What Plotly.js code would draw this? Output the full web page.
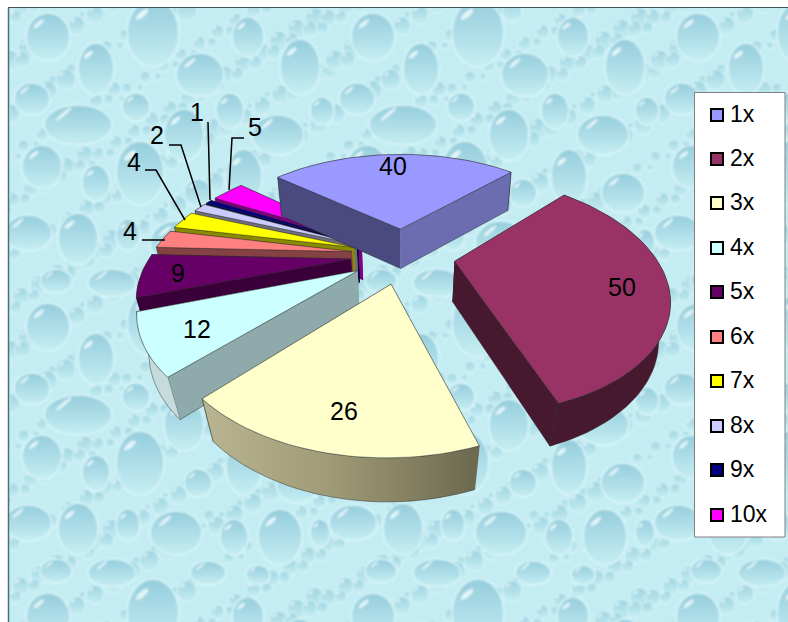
<!DOCTYPE html>
<html>
<head>
<meta charset="utf-8">
<script src="https://cdn.plot.ly/plotly-3.0.1.min.js"></script>
<style>html,body{margin:0;padding:0;background:#fff;overflow:hidden}</style>
</head>
<body>
<div id="chart" style="width:788px;height:622px"></div>
<script>
// Slice data
const categories = ['1x','2x','3x','4x','5x','6x','7x','8x','9x','10x'];
const counts = [40,50,26,12,9,4,4,2,1,5];
const topColors = ['#9999FF','#993366','#FFFFCC','#CCFFFF','#660066','#FF8080','#FFFF00','#CCCCFF','#000080','#FF00FF'];
const startWallColors = ['#4A4A80','#47192F','#A9A583','#8EAAAA','#3A003A','#854242','#8A8A00','#6E6E80','#000040','#800080'];
const endWallColors = ['#6C6CB0','#47192F','#A9A583','#8EAAAA','#3A003A','#854242','#8A8A00','#6E6E80','#000040','#800080'];
const arcWallColors = ['#6C6CB0','#47192F','#A9A583','#C6DCDC','#3A003A','#854242','#8A8A00','#6E6E80','#000040','#800080'];

// Value label positions on the page
const labelX = [393,622,344,197,178,130,134,157,197,255];
const labelY = [169,290,414,332,276,234,165,138,115,130];

// Key rows
const keyRowY = [115,159,203,248,292,337,381,426,470,515];

// Leader lines for the narrow slices
const leaders = [
  {x:[142,165],y:[240,240]},
  {x:[145,156,185],y:[170,170,220]},
  {x:[169,181,201],y:[145,145,207]},
  {x:[208,210],y:[122,200]},
  {x:[244,232,229],y:[138,138,190]}
];

// View of the tilted pie
const view = {cx:403, cy:255, scale:200, tilt:0.535, persp:0.27, pull:0.26, startDeg:-50, depth:40};

function project(X, Y, lower) {
  const q = 1 / (1 + Y * view.persp);
  let sx = view.cx + X * view.scale * q;
  let sy = view.cy - Y * view.tilt * view.scale * q;
  if (lower) {
    const shrink = 0.9607 - 0.00011 * (sy - view.cy);
    sx = view.cx + (sx - view.cx) * shrink;
    sy = sy + view.depth + 0.02 * (sy - view.cy);
  }
  return [sx, sy];
}

const total = counts.reduce((a, b) => a + b, 0);
const traces = [];

function poly(pts, fill, line, extra) {
  traces.push(Object.assign({
    type:'scatter', mode:'lines', x:pts.map(p => p[0]), y:pts.map(p => p[1]),
    fill:'toself', fillcolor:fill, line:{color:line, width:0.8},
    hoverinfo:'skip', showlegend:false
  }, extra || {}));
}

let running = view.startDeg;
const slices = counts.map((v, i) => {
  const a0 = running, a1 = running + v / total * 360;
  running = a1;
  return {i, a0, a1};
});

// Painted from the last slice round to the first so nearer faces cover farther ones
[9,8,7,6,5,4,3,2,1,0].forEach(i => {
  const {a0, a1} = slices[i];
  const mid = (a0 + a1) / 2 * Math.PI / 180;
  const ox = Math.sin(mid) * view.pull, oy = Math.cos(mid) * view.pull;
  const rim = [];
  const steps = Math.max(2, Math.ceil((a1 - a0) / 2));
  for (let s = 0; s <= steps; s++) {
    const t = (a0 + (a1 - a0) * s / steps) * Math.PI / 180;
    rim.push([ox + Math.sin(t), oy + Math.cos(t)]);
  }
  const top = p => project(p[0], p[1], false);
  const low = p => project(p[0], p[1], true);
  const apex = [ox, oy];
  const walls = [
    {pts:[apex, rim[0]], color:startWallColors[i]},
    {pts:[apex, rim[rim.length - 1]], color:endWallColors[i]},
    {pts:rim, color:arcWallColors[i], arc:true}
  ];
  const meanDepth = w => w.pts.reduce((s, p) => s + p[1], 0) / w.pts.length;
  walls.sort((a, b) => meanDepth(b) - meanDepth(a));
  walls.forEach(w => {
    const outline = w.pts.map(top).concat(w.pts.slice().reverse().map(low));
    const extra = (w.arc && i === 2)
      ? {fillgradient:{type:'horizontal', colorscale:[[0,'#B9B592'],[0.45,'#A09C78'],[1,'#6C684E']]}}
      : {};
    poly(outline, w.color, 'rgba(30,30,30,0.55)', extra);
  });
  poly([apex].concat(rim).concat([apex]).map(top), topColors[i], 'rgba(50,50,50,0.55)');
});

// Leader lines
leaders.forEach(l => traces.push({
  type:'scatter', mode:'lines', x:l.x, y:l.y, line:{color:'#000', width:1.5},
  hoverinfo:'skip', showlegend:false
}));

// Values printed on and beside the slices
traces.push({
  type:'scatter', mode:'text',
  x:labelX, y:labelY,
  text:counts.map(String),
  textposition:'middle center',
  textfont:{family:'"Liberation Sans", Arial, sans-serif', size:25, color:'#000'},
  hoverinfo:'skip', showlegend:false
});

// Key: one square and one caption per category
categories.forEach((c, i) => {
  traces.push({
    type:'scatter', mode:'markers', name:c, x:[717], y:[keyRowY[i]],
    marker:{symbol:'square', size:12, color:topColors[i], line:{color:'#000', width:2}},
    hoverinfo:'skip', showlegend:false
  });
  traces.push({
    type:'scatter', mode:'text', x:[730], y:[keyRowY[i] + 1.5], text:[c],
    textposition:'middle right',
    textfont:{family:'"Liberation Sans", Arial, sans-serif', size:23, color:'#000'},
    hoverinfo:'skip', showlegend:false
  });
});

// Water-drop wallpaper: [x, y, rx, ry] inside one repeating tile
const dropTile = [
  [40,30,22,24],[88,62,18,26],[145,26,26,34],[192,68,24,22],[240,30,16,20],[292,60,20,28],
  [24,92,18,16],[70,118,34,20],[128,100,14,14],[176,128,20,26],[222,104,14,18],[270,128,26,20],
  [314,104,12,14],[34,160,20,22],[88,176,14,18],[132,166,24,32],[190,186,14,14],[236,170,18,28],
  [290,186,22,20],[20,226,24,18],[70,232,20,26],[120,228,12,16],[168,236,26,22],[226,240,14,18],
  [272,240,22,28],[312,236,10,14],[48,274,16,12],[104,276,24,14],[200,276,18,12],[250,278,12,10]
];

function wallpaper() {
  const W = 325, H = 290;
  const small = [];
  for (let k = 1; k <= 220; k++) {
    const size = k * 0.37 % 1;
    small.push([(k * 0.618034 % 1) * W, (k * 0.754878 % 1) * H, 3 + size * 7, 3 + size * 8]);
  }
  const drawDrops = (list, gradient, rim) => {
    let out = '';
    for (let ox = -W; ox <= 780; ox += W) {
      for (let oy = -H; oy <= 615; oy += H) {
        list.forEach(([x0, y0, rx, ry]) => {
          const x = x0 + ox, y = y0 + oy;
          const hx = x - rx * 0.42, hy = y - ry * 0.55;
          out += `<ellipse cx="${x}" cy="${y}" rx="${rx}" ry="${ry}" fill="url(#${gradient})" stroke="#D9F6F9" stroke-width="${rim}"/>`;
          if (rx > 6) out += `<ellipse cx="${hx}" cy="${hy}" rx="${rx * 0.3}" ry="${Math.max(1, ry * 0.08)}" fill="#EFFCFD" opacity="0.85" transform="rotate(-40 ${hx} ${hy})"/>`;
        });
      }
    }
    return out;
  };
  const svg = `<svg xmlns="http://www.w3.org/2000/svg" width="780" height="615" viewBox="0 0 780 615">
<defs>
<linearGradient id="big" x1="0" y1="0" x2="0" y2="1">
<stop offset="0" stop-color="#96CDDC"/>
<stop offset="0.55" stop-color="#B0DFE9"/>
<stop offset="1" stop-color="#C6EEF3"/>
</linearGradient>
<linearGradient id="little" x1="0" y1="0" x2="0" y2="1">
<stop offset="0" stop-color="#9FD4E1"/>
<stop offset="1" stop-color="#C6EEF3"/>
</linearGradient>
<filter id="soft" x="0" y="0" width="100%" height="100%"><feGaussianBlur stdDeviation="0.8"/></filter>
</defs>
<rect width="780" height="615" fill="#C4EDF3"/>
<g filter="url(#soft)">${drawDrops(small, 'little', 1)}${drawDrops(dropTile, 'big', 1.6)}</g>
</svg>`;
  return 'data:image/svg+xml;charset=utf-8,' + encodeURIComponent(svg);
}

const layout = {
  width:788, height:622,
  margin:{l:0, r:0, t:0, b:0},
  paper_bgcolor:'#FFFFFF', plot_bgcolor:'rgba(0,0,0,0)',
  xaxis:{range:[0,788], visible:false, fixedrange:true},
  yaxis:{range:[622,0], visible:false, fixedrange:true},
  images:[{source:wallpaper(), xref:'x', yref:'y', x:8, y:7, sizex:780, sizey:615,
           sizing:'stretch', xanchor:'left', yanchor:'top', layer:'below'}],
  shapes:[
    {type:'line', xref:'x', yref:'y', x0:8.5, x1:8.5, y0:7.5, y1:622, line:{color:'#4E6E74', width:1.5}, layer:'between'},
    {type:'line', xref:'x', yref:'y', x0:8, x1:788, y0:7.5, y1:7.5, line:{color:'#3E5459', width:1.2}, layer:'between'},
    {type:'rect', xref:'x', yref:'y', x0:694.5, x1:785, y0:92.5, y1:537, fillcolor:'#FFFFFF', line:{color:'#808080', width:1}, layer:'between'}
  ],
  showlegend:false
};

Plotly.newPlot('chart', traces, layout, {displayModeBar:false, staticPlot:true});
</script>
</body>
</html>
